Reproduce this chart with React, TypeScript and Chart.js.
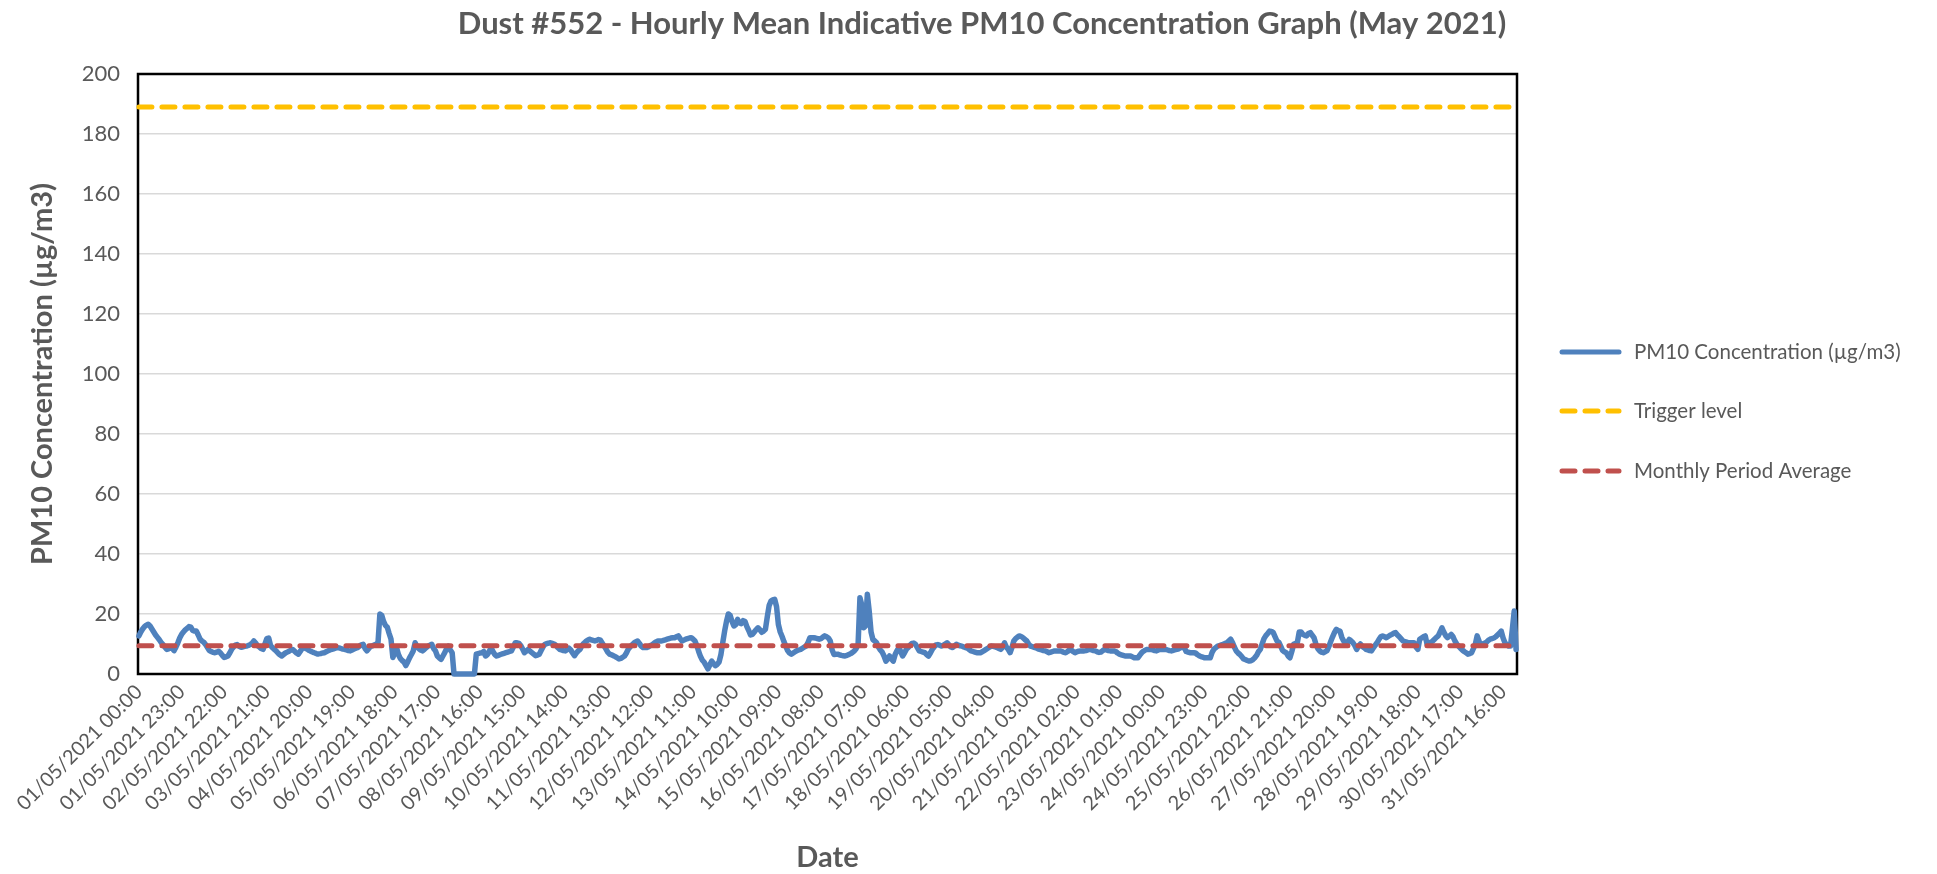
import React, { useEffect, useRef } from "react";
import { Chart, registerables } from "chart.js";

Chart.register(...registerables);

// ---------- text ----------
const CHART_TITLE = "Dust #552 - Hourly Mean Indicative PM10 Concentration Graph (May 2021)";
const Y_TITLE = "PM10 Concentration (µg/m3)";
const X_TITLE = "Date";
const SERIES_NAMES = ["PM10 Concentration (µg/m3)", "Trigger level", "Monthly Period Average"];

// ---------- axis / category settings ----------
const YEAR = 2021;
const MONTH = 5;
const DAYS_IN_MONTH = 31;
const TICK_EVERY_HOURS = 23;
const Y_MIN = 0;
const Y_MAX = 200;
const Y_STEP = 20;

// ---------- reference levels ----------
const TRIGGER_LEVEL = 189;
const MONTHLY_AVERAGE = 9.4;

// ---------- hourly PM10 values (µg/m3), one row per day, 00:00..23:00 ----------
const day01 = [12.7, 14, 15, 15.8, 16.3, 16.6, 16, 15, 14, 13, 12.2, 11.4, 10.5, 9.8, 9, 8.2, 8.4, 8.7, 8.5, 7.8, 9, 10.4, 12, 13.2];
const day02 = [14, 14.7, 15.2, 15.8, 15.6, 14.5, 14.3, 14.3, 13, 11.6, 11, 10.6, 9.8, 8.8, 7.8, 7.5, 7.2, 7.1, 7.3, 7.6, 7, 6.2, 5.5, 5.7];
const day03 = [6, 7, 8.2, 9, 9.6, 9.8, 9.3, 8.9, 9, 9.2, 9.3, 9.5, 9.8, 10.2, 11, 10.3, 9.4, 9, 8.5, 8.2, 10, 11.8, 12, 9.5];
const day04 = [8.8, 8.2, 7.7, 7, 6.4, 6, 6.5, 7, 7.3, 7.6, 8, 8.2, 7.6, 7, 6.6, 7.5, 8.5, 8.8, 8.5, 8.2, 7.8, 7.5, 7.2, 7.0];
const day05 = [6.7, 6.7, 6.8, 7, 7.1, 7.4, 7.7, 8, 8.2, 8.4, 8.6, 8.8, 8.7, 8.5, 8.3, 8.2, 8, 7.8, 7.7, 8, 8.3, 8.6, 8.8, 9.3];
const day06 = [9.7, 9.9, 8.5, 7.7, 8.5, 9.2, 9.4, 9.7, 9.9, 10.5, 20, 19.6, 17.5, 16.2, 15.6, 13.5, 11.6, 5.5, 7, 8.8, 6.5, 5.2, 4.5, 4.0];
const day07 = [2.8, 4, 5.4, 6.5, 7.7, 10.4, 9.2, 8.5, 8, 7.7, 8.2, 8.8, 9.3, 9.6, 9.9, 8.5, 7.7, 6, 5.4, 4.9, 6, 7.1, 8.5, 9.3];
const day08 = [8, 7.1, 0, 0, 0, 0, 0, 0, 0, 0, 0, 0, 0, 0, 6.6, 6.8, 7, 7.1, 7.5, 6, 6.5, 7.5, 8.8, 7.5];
const day09 = [6.5, 6, 6.2, 6.5, 6.7, 6.9, 7.1, 7.3, 7.5, 7.7, 9, 10.4, 10.4, 10.2, 9.5, 8.3, 7.1, 7.6, 8.2, 7.6, 7.1, 6.6, 6.1, 6.3];
const day10 = [6.6, 7.8, 9, 9.9, 10.1, 10.3, 10.4, 10.2, 10, 9.5, 8.8, 8.2, 8, 7.8, 7.7, 8.1, 8.6, 8, 7, 6.1, 7, 7.7, 8.2, 9.5];
const day11 = [10.2, 10.8, 11.2, 11.6, 11.4, 11.2, 11, 11.2, 11.5, 11.3, 10.3, 9.3, 8.3, 7.2, 6.6, 6.4, 6.1, 5.8, 5.4, 5, 5.2, 5.6, 6, 7];
const day12 = [8.3, 9, 9.7, 10.3, 10.7, 11, 10.2, 9.3, 8.8, 8.8, 8.8, 9.1, 9.5, 9.8, 10.3, 10.7, 11, 11, 11, 11.2, 11.4, 11.6, 11.8, 12];
const day13 = [12.1, 12.1, 12.4, 12.7, 11.8, 11, 11.3, 11.6, 11.8, 12, 12.1, 11.6, 11, 9.5, 7.5, 5.8, 4.6, 3.9, 2.8, 1.7, 3, 4.3, 3.5, 2.8];
const day14 = [3.2, 4, 6.5, 10.5, 14.3, 17.5, 20, 19.5, 17.5, 16, 16.5, 18.2, 17, 16.8, 17.8, 17.5, 15.8, 14.5, 13, 13.2, 14, 14.8, 15.4, 14.8];
const day15 = [13.9, 14.3, 14.9, 19, 22.8, 24.3, 24.7, 24.9, 22.5, 16.5, 14, 12.5, 10.8, 9.3, 7.8, 7, 6.6, 7, 7.4, 7.8, 8, 8.2, 8.6, 9];
const day16 = [9.3, 10.5, 12.1, 12.1, 12.1, 12, 11.8, 11.6, 11.8, 12.3, 12.7, 12.4, 12, 11, 8, 6.5, 6.6, 6.6, 6.4, 6.2, 6.1, 6, 6.2, 6.5];
const day17 = [6.8, 7.2, 7.7, 8.5, 9.9, 25.4, 23, 15.4, 16, 26.6, 21, 14, 11.5, 11, 10.4, 9, 8, 7.3, 6, 4.3, 5, 6, 5, 4.3];
const day18 = [6.5, 7.8, 8.8, 7.5, 6, 7, 8.2, 8.8, 9.6, 10.2, 10.3, 9.9, 8.8, 7.7, 7.5, 7.3, 7.1, 6.5, 6, 7, 8.2, 9, 9.7, 9.8];
const day19 = [9.6, 9.3, 9.6, 10, 10.4, 9.8, 9, 8.8, 9.4, 9.9, 9.6, 9.4, 9.3, 9, 8.8, 8.6, 8.1, 7.7, 7.5, 7.3, 7.1, 7.1, 7.1, 7.4];
const day20 = [7.8, 8.2, 8.6, 9, 9.3, 9.2, 9, 8.8, 8.5, 8.2, 9, 10.4, 9, 8.2, 7.1, 8.8, 11, 11.8, 12.3, 12.7, 12.5, 12.1, 11.5, 11];
const day21 = [10, 9.3, 9.1, 8.9, 8.7, 8.4, 8.2, 8, 7.8, 7.7, 7.4, 7.1, 7.3, 7.5, 7.7, 7.7, 7.7, 7.7, 7.5, 7.2, 7.1, 7.5, 8, 8];
const day22 = [7.5, 7.1, 7.4, 7.6, 7.7, 7.7, 7.7, 7.8, 8, 8.2, 8, 7.8, 7.7, 7.4, 7.2, 7.3, 7.8, 8.2, 8, 7.8, 7.7, 7.7, 7.7, 7.5];
const day23 = [7, 6.6, 6.4, 6.2, 6, 6, 6, 6, 5.7, 5.4, 5.4, 5.4, 6.3, 7.1, 7.6, 8, 8.2, 8.2, 8.2, 8, 7.8, 7.7, 8, 8.2];
const day24 = [8.2, 8.2, 8.2, 8, 7.8, 7.7, 7.9, 8.1, 8.2, 8.4, 8.8, 8.8, 8.8, 7.5, 7.3, 7.1, 7.1, 7.1, 7, 6.5, 6.1, 5.8, 5.6, 5.4];
const day25 = [5.4, 5.4, 5.4, 7.2, 8.3, 8.8, 9.3, 9.5, 9.7, 9.9, 10.2, 10.4, 11, 11.6, 10.5, 9, 7.7, 7, 6.5, 5.8, 5, 4.8, 4.5, 4.3];
const day26 = [4.4, 4.8, 5.4, 6.2, 7.4, 8.2, 10, 11.8, 12.8, 13.5, 14.3, 14.2, 13.8, 12.4, 11, 10.6, 9.3, 7.9, 7.4, 7.1, 6, 5.4, 7.5, 9.9];
const day27 = [10.2, 10.5, 14, 14, 13.2, 12.9, 12.7, 13.5, 13.8, 12.9, 12.1, 10, 8.5, 7.7, 7.3, 7.1, 7.4, 7.8, 9.2, 10.8, 12.4, 13.8, 14.9, 14.5];
const day28 = [14.3, 12.2, 11, 10.1, 10.5, 11.5, 11, 10.4, 9.5, 8.2, 9.3, 10, 9.2, 8.8, 8.2, 8, 7.8, 7.7, 8.7, 9.6, 10.4, 11.5, 12.4, 12.7];
const day29 = [12.4, 12.1, 12.5, 12.9, 13.2, 13.6, 13.8, 13, 12.4, 11.7, 11, 10.8, 10.6, 10.4, 10.4, 10.4, 10.4, 9, 8.2, 11.6, 12, 12.4, 12.7, 9.9];
const day30 = [10.3, 10.6, 11, 11.6, 12.2, 12.7, 14, 15.4, 14, 12.8, 12.1, 12.6, 13.2, 12.4, 11, 10, 9.3, 8.6, 8, 7.5, 7.1, 6.6, 6.8, 7.1];
const day31 = [8.5, 9.9, 12.7, 11, 9.9, 10, 10.3, 10.6, 11.2, 11.6, 11.8, 12, 12.4, 13, 13.6, 14.3, 12, 10.4, 9.8, 9.3, 9.3, 15, 21, 8.2];

const HOURLY_PM10: number[] = [
  ...day01, ...day02, ...day03, ...day04, ...day05, ...day06, ...day07, ...day08,
  ...day09, ...day10, ...day11, ...day12, ...day13, ...day14, ...day15, ...day16,
  ...day17, ...day18, ...day19, ...day20, ...day21, ...day22, ...day23, ...day24,
  ...day25, ...day26, ...day27, ...day28, ...day29, ...day30, ...day31,
];

// hourly category labels dd/mm/yyyy HH:00
const pad = (n: number) => String(n).padStart(2, "0");
const HOUR_LABELS: string[] = [];
for (let d = 1; d <= DAYS_IN_MONTH; d++) {
  for (let h = 0; h < 24; h++) {
    HOUR_LABELS.push(`${pad(d)}/${pad(MONTH)}/${YEAR} ${pad(h)}:00`);
  }
}

// ---------- styles ----------
const COLORS = { pm10: "#4F81BD", trigger: "#FFC000", average: "#C0504D", text: "#595959", grid: "#D9D9D9" };
const FONT = "Lato, 'Open Sans', sans-serif";
const DASH = [13, 10];

const decorPlugin = {
  id: "decor",
  beforeDatasetsDraw(chart: any) {
    const { ctx, chartArea: a } = chart;
    ctx.save();
    ctx.strokeStyle = "#000";
    ctx.lineWidth = 2.5;
    ctx.strokeRect(a.left, a.top, a.right - a.left, a.bottom - a.top);
    ctx.restore();
  },
  afterDraw(chart: any) {
    const { ctx, chartArea: a } = chart;
    ctx.save();
    ctx.fillStyle = COLORS.text;
    // title
    ctx.font = `bold 31px ${FONT}`;
    ctx.textAlign = "center";
    ctx.textBaseline = "middle";
    ctx.fillText(CHART_TITLE, 982, 24);
    // x title
    ctx.font = `bold 29px ${FONT}`;
    ctx.fillText(X_TITLE, (a.left + a.right) / 2, 858);
    // y title
    ctx.save();
    ctx.translate(43, (a.top + a.bottom) / 2);
    ctx.rotate(-Math.PI / 2);
    ctx.fillText(Y_TITLE, 0, 0);
    ctx.restore();
    // legend
    const rows = [352, 411, 471];
    const styles = [
      { color: COLORS.pm10, dash: [] as number[] },
      { color: COLORS.trigger, dash: DASH },
      { color: COLORS.average, dash: DASH },
    ];
    ctx.font = `20.5px ${FONT}`;
    ctx.textAlign = "left";
    rows.forEach((y, i) => {
      ctx.save();
      ctx.strokeStyle = styles[i].color;
      ctx.lineWidth = 5;
      ctx.lineCap = "round";
      ctx.setLineDash(styles[i].dash);
      ctx.beginPath();
      ctx.moveTo(1562, y);
      ctx.lineTo(1619, y);
      ctx.stroke();
      ctx.restore();
      ctx.fillStyle = COLORS.text;
      ctx.fillText(SERIES_NAMES[i], 1634, y);
    });
    ctx.restore();
  },
};

export default function App() {
  const ref = useRef<HTMLCanvasElement>(null);
  useEffect(() => {
    const chart = new Chart(ref.current as HTMLCanvasElement, {
      type: "line",
      data: {
        labels: HOUR_LABELS,
        datasets: [
          {
            label: SERIES_NAMES[0],
            data: HOURLY_PM10,
            borderColor: COLORS.pm10,
            borderWidth: 5.5,
            pointRadius: 0,
            tension: 0,
            borderJoinStyle: "round",
            borderCapStyle: "round",
            clip: false,
            order: 1,
          },
          {
            label: SERIES_NAMES[1],
            data: HOUR_LABELS.map(() => TRIGGER_LEVEL),
            borderColor: COLORS.trigger,
            borderWidth: 5,
            borderDash: DASH,
            borderCapStyle: "round",
            pointRadius: 0,
            order: 3,
          },
          {
            label: SERIES_NAMES[2],
            data: HOUR_LABELS.map(() => MONTHLY_AVERAGE),
            borderColor: COLORS.average,
            borderWidth: 5,
            borderDash: DASH,
            borderCapStyle: "round",
            pointRadius: 0,
            order: 0,
          },
        ],
      },
      options: {
        responsive: false,
        animation: false,
        events: [],
        layout: { padding: { left: 0, top: 74, right: 420, bottom: 0 } },
        plugins: { legend: { display: false }, tooltip: { enabled: false }, title: { display: false } },
        scales: {
          x: {
            type: "category",
            offset: true,
            grid: { display: false, drawTicks: false },
            border: { display: false },
            ticks: {
              autoSkip: false,
              maxRotation: 45,
              minRotation: 45,
              padding: 6,
              color: COLORS.text,
              font: { family: FONT, size: 20 },
              callback: (_v: any, i: number) => (i % TICK_EVERY_HOURS === 0 ? HOUR_LABELS[i] : null),
            },
            afterFit: (s: any) => {
              s.height = 200;
            },
          },
          y: {
            min: Y_MIN,
            max: Y_MAX,
            ticks: { stepSize: Y_STEP, color: COLORS.text, font: { family: FONT, size: 22 }, padding: 18 },
            grid: { color: COLORS.grid, lineWidth: 1.5, drawTicks: false },
            border: { display: false },
            afterFit: (s: any) => {
              s.width = 138;
            },
          },
        },
      } as any,
      plugins: [decorPlugin],
    });
    return () => chart.destroy();
  }, []);
  return (
    <div style={{ position: "fixed", left: 0, top: 0, width: 1937, height: 874, background: "#fff" }}>
      <canvas ref={ref} width={1937} height={874} style={{ display: "block", width: 1937, height: 874 }} />
    </div>
  );
}
